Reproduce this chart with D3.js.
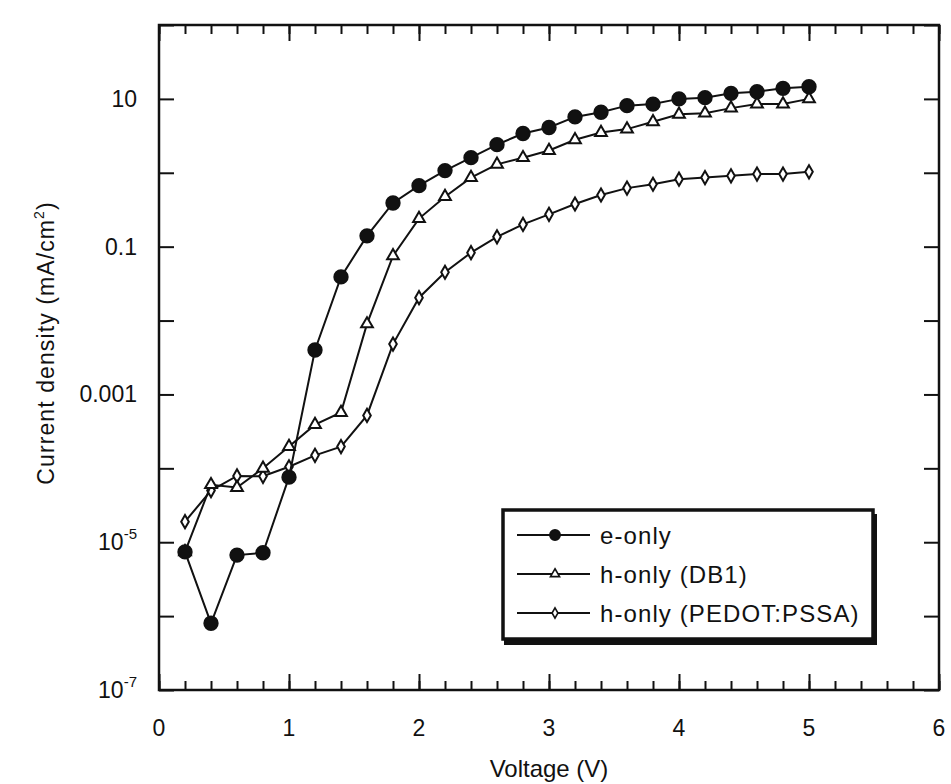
<!DOCTYPE html>
<html lang="en">
<head>
<meta charset="UTF-8">
<title>Current density vs voltage</title>
<style>
  body { margin: 0; background: #fff; }
  text { font-family: "Liberation Sans", Arial, Helvetica, sans-serif; fill: #111; }
</style>
</head>
<body>
<div class="canvas"></div>
<script src="https://cdnjs.cloudflare.com/ajax/libs/d3/7.8.5/d3.min.js"></script>
<script>
// data
const voltage = [0.2, 0.4, 0.6, 0.8, 1.0, 1.2, 1.4, 1.6, 1.8, 2.0, 2.2, 2.4, 2.6,
  2.8, 3.0, 3.2, 3.4, 3.6, 3.8, 4.0, 4.2, 4.4, 4.6, 4.8, 5.0];
const eOnly = [7.4e-6, 8e-7, 6.7e-6, 7.2e-6, 7.6e-5, 4e-3, 0.039, 0.14, 0.39, 0.67,
  1.07, 1.6, 2.4, 3.4, 4.1, 5.7, 6.6, 8.1, 8.5, 10, 10.4, 11.9, 12.5, 13.9, 14.6];
const hOnlyDB1 = [7.4e-6, 6e-5, 5.5e-5, 1e-4, 1.97e-4, 3.9e-4, 5.7e-4, 9e-3, 0.075, 0.24,
  0.475, 0.86, 1.3, 1.6, 2.0, 2.8, 3.5, 3.9, 4.9, 6.2, 6.4, 7.5, 8.5, 8.5, 10];
const hOnlyPedot = [1.9e-5, 5e-5, 7.9e-5, 7.8e-5, 1.05e-4, 1.5e-4, 1.97e-4, 5.2e-4, 4.8e-3, 0.0204,
  0.045, 0.083, 0.136, 0.2, 0.274, 0.378, 0.5, 0.62, 0.70, 0.82, 0.86, 0.91, 0.96, 0.96, 1.03];
const seriesNames = ['e-only', 'h-only (DB1)', 'h-only (PEDOT:PSSA)'];
const xTickLabels = [0, 1, 2, 3, 4, 5, 6];
const yTickLabels = [10, 0.1, 0.001, 1e-5, 1e-7];

const width = 951, height = 784;
const margin = {top: 25, right: 12, bottom: 94, left: 159};
const graphWidth = 939 - margin.left;
const graphHeight = 690 - margin.top;

const svg = d3.select('.canvas')
  .append('svg')
    .attr('width', width)
    .attr('height', height);

const graph = svg.append('g')
  .attr('transform', `translate(${margin.left}, ${margin.top})`);

const x = d3.scaleLinear().domain([0, 6]).range([0, graphWidth]);
const y = d3.scaleLog().domain([1e-7, 100]).range([graphHeight, 0]);

// ticks: minor every 0.2 V, major each volt; y every decade
const xMinor = d3.range(0, 31).map(i => i / 5);
const yDecades = d3.range(-7, 3).map(p => Math.pow(10, p));

const tickStyle = g => {
  g.select('.domain').remove();
  g.selectAll('line').attr('stroke', '#111').attr('stroke-width', 2);
};

graph.append('g')
  .attr('transform', `translate(0, ${graphHeight})`)
  .call(d3.axisTop(x).tickValues(xMinor).tickSize(9).tickFormat(''))
  .call(tickStyle);
graph.append('g')
  .attr('transform', `translate(0, ${graphHeight})`)
  .call(d3.axisTop(x).tickValues(xTickLabels).tickSize(16).tickFormat(''))
  .call(tickStyle);
graph.append('g')
  .call(d3.axisBottom(x).tickValues(xMinor).tickSize(9).tickFormat(''))
  .call(tickStyle);
graph.append('g')
  .call(d3.axisBottom(x).tickValues(xTickLabels).tickSize(16).tickFormat(''))
  .call(tickStyle);
graph.append('g')
  .call(d3.axisRight(y).tickValues(yDecades).tickSize(15).tickFormat(''))
  .call(tickStyle);
graph.append('g')
  .attr('transform', `translate(${graphWidth}, 0)`)
  .call(d3.axisLeft(y).tickValues(yDecades).tickSize(15).tickFormat(''))
  .call(tickStyle);

// frame
graph.append('rect')
  .attr('width', graphWidth)
  .attr('height', graphHeight)
  .attr('fill', 'none')
  .attr('stroke', '#111')
  .attr('stroke-width', 2.5);

// tick labels
graph.selectAll('.xlab')
  .data(xTickLabels)
  .enter().append('text')
    .attr('x', d => x(d))
    .attr('y', graphHeight + 46)
    .attr('text-anchor', 'middle')
    .attr('font-size', 23)
    .text(d => d);

const yLab = graph.selectAll('.ylab')
  .data(yTickLabels)
  .enter().append('text')
    .attr('x', -22)
    .attr('y', d => y(d) + 8)
    .attr('text-anchor', 'end')
    .attr('font-size', 23);
yLab.each(function(d) {
  const t = d3.select(this);
  if (d < 1e-4) {
    t.append('tspan').text('10');
    t.append('tspan').attr('dy', -11).attr('font-size', 15).text(Math.round(Math.log10(d)));
  } else {
    t.text(d);
  }
});

// axis titles
svg.append('text')
  .attr('x', 549)
  .attr('y', 777)
  .attr('text-anchor', 'middle')
  .attr('font-size', 24)
  .text('Voltage (V)');

const yTitle = svg.append('text')
  .attr('transform', 'translate(54, 343) rotate(-90)')
  .attr('text-anchor', 'middle')
  .attr('font-size', 23)
  .attr('letter-spacing', 1.1);
yTitle.append('tspan').text('Current density (mA/cm');
yTitle.append('tspan').attr('dy', -10).attr('font-size', 14).text('2');
yTitle.append('tspan').attr('dy', 10).text(')');

// series
const series = [
  {name: seriesNames[0], values: eOnly, symbol: d3.symbolCircle, size: 140, fill: '#111'},
  {name: seriesNames[1], values: hOnlyDB1, symbol: d3.symbolTriangle, size: 60, fill: '#fff'},
  {name: seriesNames[2], values: hOnlyPedot, symbol: d3.symbolDiamond, size: 50, fill: '#fff'}
];

const line = d3.line()
  .x((d, i) => x(voltage[i]))
  .y(d => y(d));

series.slice().reverse().forEach(s => {
  graph.append('path')
    .attr('d', line(s.values))
    .attr('fill', 'none')
    .attr('stroke', '#111')
    .attr('stroke-width', 2);

  graph.selectAll(null)
    .data(s.values)
    .enter().append('path')
      .attr('d', d3.symbol().type(s.symbol).size(s.size))
      .attr('transform', (d, i) => `translate(${x(voltage[i])}, ${y(d)})`)
      .attr('fill', s.fill)
      .attr('stroke', '#111')
      .attr('stroke-width', 2);
});

// legend
const legend = svg.append('g').attr('transform', 'translate(503, 510)');
legend.append('rect')
  .attr('x', 1).attr('y', 4)
  .attr('width', 373).attr('height', 131)
  .attr('fill', '#111');
legend.append('rect')
  .attr('width', 370).attr('height', 129)
  .attr('fill', '#fff')
  .attr('stroke', '#111')
  .attr('stroke-width', 3.5);

series.forEach((s, i) => {
  const row = legend.append('g').attr('transform', `translate(0, ${25 + i * 39})`);
  row.append('line')
    .attr('x1', 14).attr('x2', 87)
    .attr('stroke', '#111').attr('stroke-width', 2);
  row.append('path')
    .attr('d', d3.symbol().type(s.symbol).size(s.size * 0.6))
    .attr('transform', 'translate(52, 0)')
    .attr('fill', s.fill)
    .attr('stroke', '#111')
    .attr('stroke-width', 1.6);
  row.append('text')
    .attr('x', 97)
    .attr('y', 9)
    .attr('font-size', 24)
    .attr('letter-spacing', 1.1)
    .text(s.name);
});
</script>
</body>
</html>
